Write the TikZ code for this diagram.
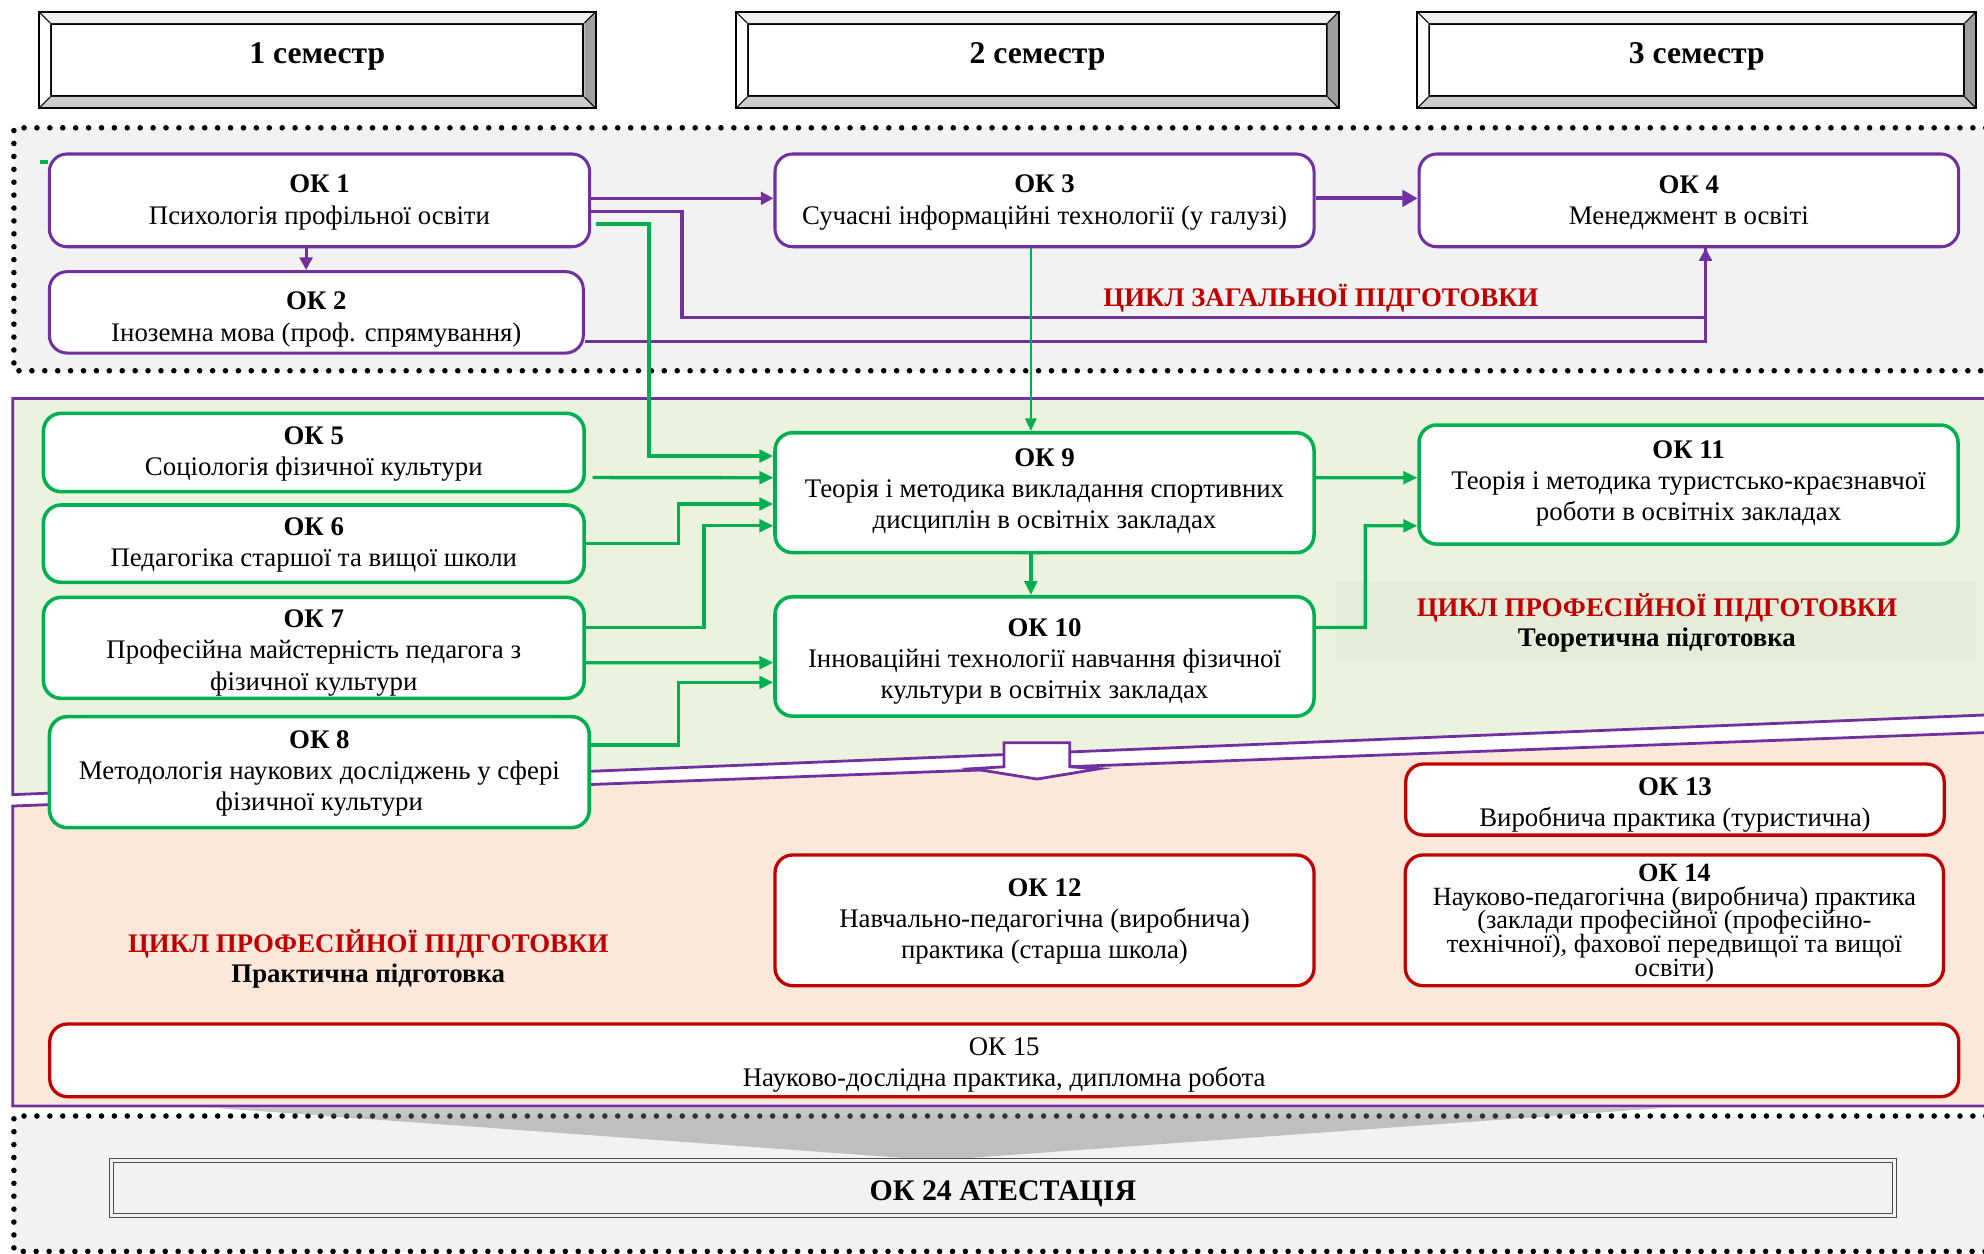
\documentclass[tikz,border=0pt]{standalone}
\usepackage{fontspec}
\setmainfont{Liberation Serif}
\usetikzlibrary{arrows.meta,calc}
\definecolor{purp}{HTML}{7030A0}
\definecolor{grn}{HTML}{00B050}
\definecolor{rd}{HTML}{C00000}
\definecolor{regiongray}{HTML}{F2F2F2}
\definecolor{greenfill}{HTML}{EBF3DE}
\definecolor{pinkfill}{HTML}{FBE8DA}
\definecolor{labelfill}{HTML}{E5ECD9}
\tikzset{
  boxbase/.style={draw, fill=white, rounded corners=7pt, inner sep=0pt},
  pbox/.style={boxbase, draw=purp, line width=1.2pt},
  gbox/.style={boxbase, draw=grn, line width=1.4pt},
  rbox/.style={boxbase, draw=rd, line width=1.3pt},
  txt/.style={align=center, inner sep=0pt, font=\fontsize{10.6}{12.3}\selectfont},
  tighttxt/.style={align=center, inner sep=0pt, font={\fontsize{10.4}{9.3}\selectfont\lineskiplimit=-20pt\lineskip=0pt}},
  parr/.style={draw=purp, line width=1.25pt, -{Triangle[length=5pt,width=5pt]}},
  pline/.style={draw=purp, line width=1.25pt},
  garr/.style={draw=grn, line width=1.3pt, -{Triangle[length=5.5pt,width=5pt]}},
  dotborder/.style={line width=2.2pt, dash pattern=on 0pt off 5.1pt, line cap=round},
  cyclelabel/.style={text=rd, inner sep=0pt, font=\bfseries\fontsize{10.6}{12.3}\selectfont},
  sublabel/.style={inner sep=0pt, font=\bfseries\fontsize{10.6}{12.3}\selectfont},
  semnode/.style={draw, line width=0.8pt, fill=white, inner sep=0pt, minimum height=28.4pt},
  semtxt/.style={inner sep=0pt, font=\bfseries\fontsize{12.5}{14}\selectfont},
}
\newcommand\semframe[1]{%
  \fill[white!94!black] ($(#1.north west)+(-9,-9)$) -- ($(#1.north east)+(9,-9)$) -- (#1.north east) -- (#1.north west) -- cycle;
  \fill[white] ($(#1.north west)+(-9,-9)$) -- (#1.north west) -- (#1.south west) -- ($(#1.south west)+(-9,9)$) -- cycle;
  \fill[black!38] ($(#1.north east)+(9,-9)$) -- ($(#1.south east)+(9,9)$) -- (#1.south east) -- (#1.north east) -- cycle;
  \fill[black!20] ($(#1.south west)+(-9,9)$) -- ($(#1.south east)+(9,9)$) -- (#1.south east) -- (#1.south west) -- cycle;
  \draw[line width=0.9pt] ($(#1.north west)+(-9,-9)$) rectangle ($(#1.south east)+(9,9)$);
  \draw[line width=0.4pt] ($(#1.north west)+(-9,-9)$) -- (#1.north west) ($(#1.north east)+(9,-9)$) -- (#1.north east) ($(#1.south west)+(-9,9)$) -- (#1.south west) ($(#1.south east)+(9,9)$) -- (#1.south east);
}
\begin{document}
\begin{tikzpicture}[x=0.5pt,y=-0.5pt]
\useasboundingbox (0,0) rectangle (1568,991);
\clip (0,0) rectangle (1568,991);

% ---------- regions ----------
\fill[regiongray] (11,101) rectangle (1600,293);
\draw[dotborder] (1600,101) -- (11,101) -- (11,293) -- (1600,293);

\fill[greenfill] (1600,315) -- (10,315) -- (10,628) -- (1600,563.8) -- cycle;
\draw[purp, line width=1.1pt] (1600,315) -- (10,315) -- (10,628) -- (1600,563.8);
\fill[pinkfill] (1600,577.8) -- (10,637) -- (10,874) -- (1600,874) -- cycle;
\draw[purp, line width=1.1pt] (1600,577.8) -- (10,637) -- (10,874) -- (1600,874);

\fill[regiongray] (11,882) rectangle (1600,989);
\draw[dotborder] (1600,882) -- (11,882) -- (11,989) -- (1600,989);
\fill[black!52, opacity=0.42] (166,875.3) -- (1319.5,875.3) -- (740,917) -- cycle;

\fill[labelfill] (1056,460) rectangle (1562,524);

% ---------- semesters ----------
\node[semnode, minimum width=210.25pt] (sem1) at (250.75,47.4) {};
\semframe{sem1}
\node[semtxt, anchor=base] (sem1t) at (250.75,50) {1 семестр};
\node[semnode, minimum width=228.55pt] (sem2) at (819.85,47.4) {};
\semframe{sem2}
\node[semtxt, anchor=base] (sem2t) at (820,50) {2 семестр};
\node[semnode, minimum width=211.15pt] (sem3) at (1340.85,47.4) {};
\semframe{sem3}
\node[semtxt, anchor=base] (sem3t) at (1341,50) {3 семестр};

% ---------- general cycle ----------
\node[pbox, minimum width=213.5pt, minimum height=36.65pt] (ok1) at (252.5,158.35) {};
\node[txt] (ok1t) at (252.5,160) {\textbf{ОК 1}\\Психологія профільної освіти};
\node[pbox, minimum width=211pt, minimum height=32.15pt] (ok2) at (250,246.85) {};
\node[txt] (ok2t) at (250,252.5) {\textbf{ОК 2}\\Іноземна мова (проф. спрямування)};
\node[pbox, minimum width=213pt, minimum height=36.65pt] (ok3) at (825.5,158.35) {};
\node[txt] (ok3t) at (825.5,160) {\textbf{ОК 3}\\Сучасні інформаційні технології (у галузі)};
\node[pbox, minimum width=213.25pt, minimum height=36.65pt] (ok4) at (1334.75,158.35) {};
\node[txt] (ok4t) at (1334.75,160) {\textbf{ОК 4}\\Менеджмент в освіті};
\node[cyclelabel, anchor=base] (lab1) at (1044,242) {ЦИКЛ ЗАГАЛЬНОЇ ПІДГОТОВКИ};

% ---------- theoretical ----------
\node[gbox, minimum width=213.7pt, minimum height=30.95pt] (ok5) at (248,357.65) {};
\node[txt] (ok5t) at (248,359) {\textbf{ОК 5}\\Соціологія фізичної культури};
\node[gbox, minimum width=213.7pt, minimum height=30.55pt] (ok6) at (248,429.65) {};
\node[txt] (ok6t) at (248,431) {\textbf{ОК 6}\\Педагогіка старшої та вищої школи};
\node[gbox, minimum width=213.7pt, minimum height=39.9pt] (ok7) at (248,512) {};
\node[txt] (ok7t) at (248,516) {\textbf{ОК 7}\\Професійна майстерність педагога з\\фізичної культури};
\node[gbox, minimum width=213pt, minimum height=47.4pt] (ok9) at (825.5,389.4) {};
\node[txt] (ok9t) at (825.5,388) {\textbf{ОК 9}\\Теорія і методика викладання спортивних\\дисциплін в освітніх закладах};
\node[gbox, minimum width=213pt, minimum height=47.2pt] (ok10) at (825.5,518.8) {};
\node[txt] (ok10t) at (825.5,523) {\textbf{ОК 10}\\Інноваційні технології навчання фізичної\\культури в освітніх закладах};
\node[gbox, minimum width=213pt, minimum height=47.05pt] (ok11) at (1334.5,382.95) {};
\node[txt] (ok11t) at (1334.5,382) {\textbf{ОК 11}\\Теорія і методика туристсько-краєзнавчої\\роботи в освітніх закладах};
\node[cyclelabel, anchor=base] (lab2) at (1309.5,487.4) {ЦИКЛ ПРОФЕСІЙНОЇ ПІДГОТОВКИ};
\node[sublabel, anchor=base] (lab2b) at (1309.5,511) {Теоретична підготовка};

% block arrow between cycles
\draw[purp, line width=1.1pt, fill=white, line join=miter] (793.5,587) -- (845.5,587) -- (845.5,606) -- (869,607.5) -- (819.6,615.7) -- (768.7,607.5) -- (793.5,606) -- cycle;

\node[gbox, minimum width=213.3pt, minimum height=43.85pt] (ok8) at (252.4,610.25) {};
\node[txt] (ok8t) at (252.4,611) {\textbf{ОК 8}\\Методологія наукових досліджень у сфері\\фізичної культури};

% ---------- practical ----------
\node[rbox, minimum width=212.75pt, minimum height=28.1pt] (ok13) at (1323.75,631.9) {};
\node[txt] (ok13t) at (1323.75,636.5) {\textbf{ОК 13}\\Виробнича практика (туристична)};
\node[rbox, minimum width=213pt, minimum height=51.65pt] (ok12) at (825.5,727.35) {};
\node[txt] (ok12t) at (825.5,728) {\textbf{ОК 12}\\Навчально-педагогічна (виробнича)\\практика (старша школа)};
\node[rbox, minimum width=212.7pt, minimum height=51.65pt] (ok14) at (1323.3,727.35) {};
\node[tighttxt] (ok14t) at (1323.3,729.5) {\textbf{ОК 14}\\Науково-педагогічна (виробнича) практика\\(заклади професійної (професійно-\\технічної), фахової передвищої та вищої\\освіти)};
\node[rbox, minimum width=754.35pt, minimum height=28.7pt] (ok15) at (793.65,838) {};
\node[txt] (ok15t) at (793.65,842) {ОК 15\\Науково-дослідна практика, дипломна робота};
\node[cyclelabel, anchor=base] (lab3) at (291,753) {ЦИКЛ ПРОФЕСІЙНОЇ ПІДГОТОВКИ};
\node[sublabel, anchor=base] (lab3b) at (291,776.6) {Практична підготовка};

% ---------- attestation ----------
\node[draw=black!70, line width=0.5pt, double=regiongray, double distance=1.1pt, fill=regiongray, minimum width=704.4pt, minimum height=21.75pt, inner sep=0pt] (ok24) at (792.6,939.05) {};
\node[sublabel, anchor=base, font=\bfseries\fontsize{11.8}{13}\selectfont] (ok24t) at (792.6,948.4) {ОК 24 АТЕСТАЦІЯ};

% ---------- purple connectors ----------
\draw[parr] ([yshift=0.8pt]ok1.east) -- ([yshift=0.8pt]ok3.west);
\draw[purp, line width=1.6pt, -{Triangle[length=6pt,width=6.5pt]}] ([yshift=0.8pt]ok3.east) -- ([yshift=0.8pt]ok4.west);
\draw[parr] ([xshift=-5.3pt]ok1.south) -- ([xshift=-5.3pt]ok1.south |- ok2.north);
\coordinate (p4) at ([xshift=6.6pt]ok4.south);
\draw[pline] ([yshift=-11.6pt]ok2.east) -| (p4);
\draw[parr] ([yshift=-4.45pt]ok1.east) -| (539,251) -| (p4);

% ---------- green connectors ----------
\coordinate (stub) at (31.5,128);
\draw[draw=grn, line width=1.3pt] (stub) -- (stub -| ok1.west);
\draw[garr] ([xshift=1.8pt,yshift=-9.3pt]ok1.east) -| (513,360.4) -- ([yshift=14.5pt]ok9.west);
\draw[draw=grn, line width=0.7pt, -{Triangle[length=5pt,width=4.5pt]}] ([xshift=-5.4pt]ok3.south) -- ([xshift=-5.4pt]ok9.north);
\draw[garr] ([xshift=2.6pt,yshift=-9.9pt]ok5.east) -- ([yshift=5.95pt]ok9.west);
\draw[garr] (ok6.east) -| (536,398.3) -- ([yshift=-4.45pt]ok9.west);
\draw[garr] ([yshift=8pt]ok7.east) -| (556.4,415.5) -- ([yshift=-13.05pt]ok9.west);
\draw[garr] ([yshift=-5.85pt]ok7.east) -- ([yshift=-2.45pt]ok10.west);
\draw[garr] ([yshift=10.7pt]ok8.east) -| (536,539.3) -- ([yshift=-10.25pt]ok10.west);
\draw[garr] ([xshift=-5.4pt]ok9.south) -- ([xshift=-5.4pt]ok10.north);
\draw[garr] ([yshift=5.95pt]ok9.east) -- ([yshift=2.7pt]ok11.west);
\draw[garr] ([yshift=11.4pt]ok10.east) -| (1079,415.5) -- ([yshift=-16.3pt]ok11.west);
\end{tikzpicture}
\end{document}
